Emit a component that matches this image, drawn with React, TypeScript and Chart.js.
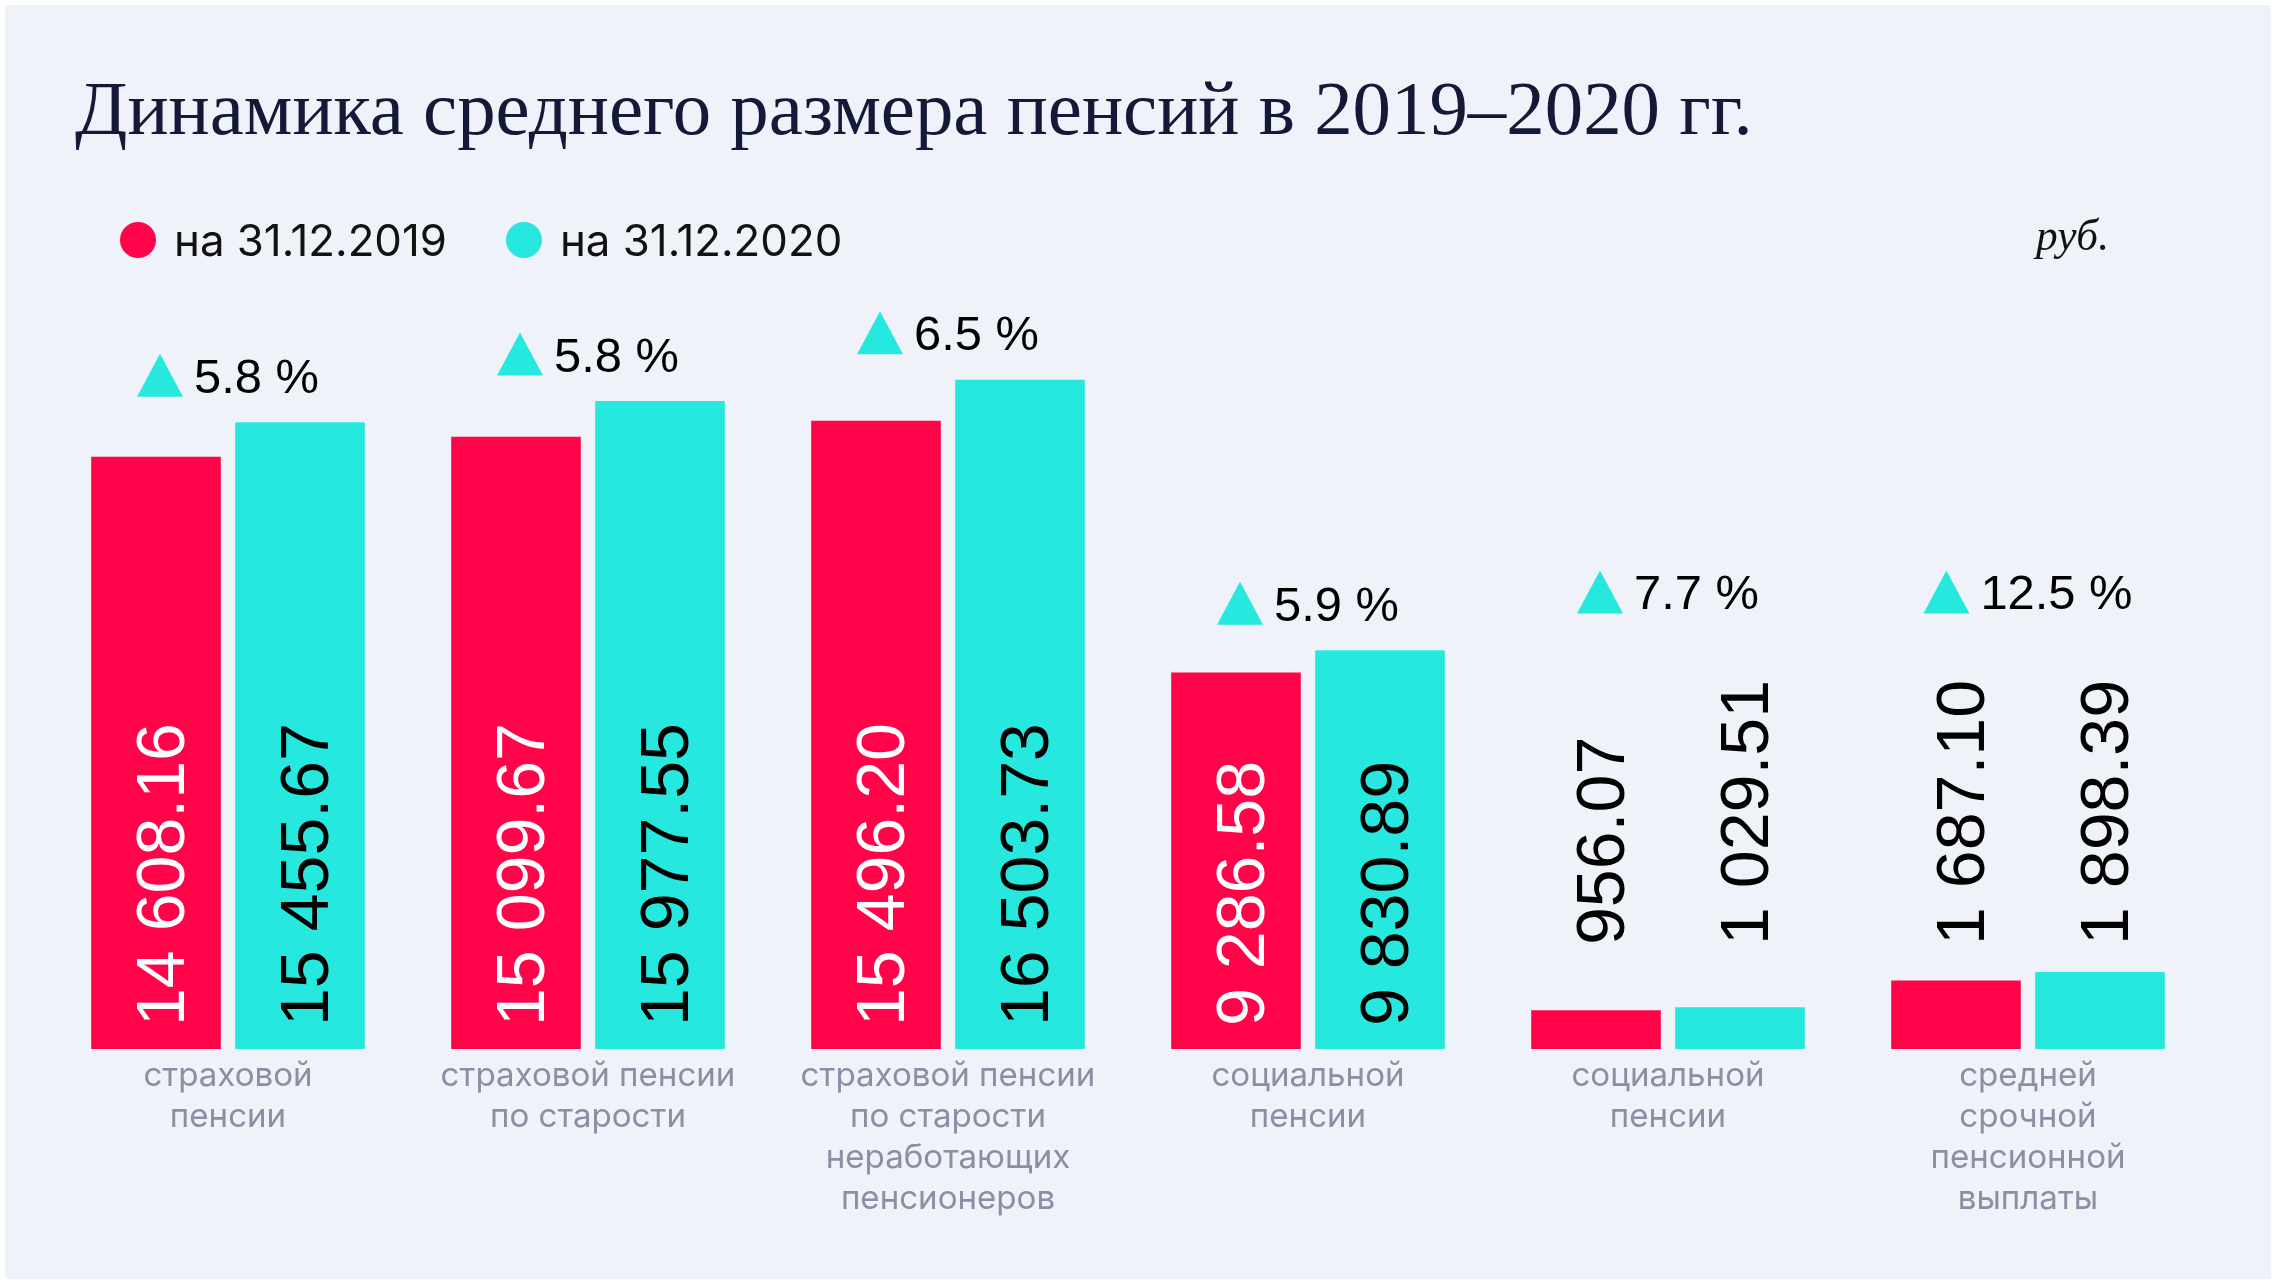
import React, { useEffect, useRef } from "react";
import { Chart, registerables } from "chart.js";

Chart.register(...registerables);

// ---------- data ----------
const titleText = "Динамика среднего размера пенсий в 2019–2020 гг.";
const unitText = "руб.";
const seriesNames = ["на 31.12.2019", "на 31.12.2020"];
const categories: string[][] = [
  ["страховой", "пенсии"],
  ["страховой пенсии", "по старости"],
  ["страховой пенсии", "по старости", "неработающих", "пенсионеров"],
  ["социальной", "пенсии"],
  ["социальной", "пенсии"],
  ["средней", "срочной", "пенсионной", "выплаты"],
];
const values2019 = [14608.16, 15099.67, 15496.2, 9286.58, 956.07, 1687.1];
const values2020 = [15455.67, 15977.55, 16503.73, 9830.89, 1029.51, 1898.39];
const growthLabels = ["5.8 %", "5.8 %", "6.5 %", "5.9 %", "7.7 %", "12.5 %"];

// ---------- styles ----------
const RED = "#ff0449";
const CYAN = "#26e8de";
const BG = "#eff3f9";
const TITLE_COLOR = "#141938";
const CAT_COLOR = "#8a8fa3";
const SANS = "Inter, 'Liberation Sans', sans-serif";
const PCT_FAMILY = "'Liberation Sans', Arial, sans-serif";
const VALUE_FONT_FAMILY = "'Liberation Sans', Arial, sans-serif";
const SERIF = "'Liberation Serif', 'DejaVu Serif', serif";

function fmt(v: number): string {
  const [i, d] = v.toFixed(2).split(".");
  return i.replace(/\B(?=(\d{3})+(?!\d))/g, " ") + "." + d;
}

export default function App() {
  const ref = useRef<HTMLCanvasElement>(null);

  useEffect(() => {
    document.body.style.margin = "0";
    const canvas = ref.current!;
    const W = 2276;
    const H = 1284;
    const mctx = document.createElement("canvas").getContext("2d")!;
    const fit = (text: string, style: string, family: string, target: number) => {
      mctx.font = `${style} 100px ${family}`;
      return (100 * target) / mctx.measureText(text).width;
    };

    const titleSize = fit(titleText, "normal", SERIF, 1678);
    const legendSize = fit(seriesNames[0], "normal", SANS, 273);
    const pctSize = fit("5.8 %", "normal", PCT_FAMILY, 125);
    const valueSize = fit("14 608.16", "normal", VALUE_FONT_FAMILY, 303);
    const catSize = fit("страховой пенсии", "normal", SANS, 295);
    const unitSize = fit(unitText, "italic", SERIF, 73);

    const deco = {
      id: "deco",
      beforeDraw(chart: any) {
        const ctx = chart.ctx as CanvasRenderingContext2D;
        ctx.save();
        ctx.fillStyle = "#ffffff";
        ctx.fillRect(0, 0, W, H);
        ctx.fillStyle = BG;
        ctx.fillRect(5, 5, W - 10, H - 10);
        ctx.restore();
      },
      afterDatasetsDraw(chart: any) {
        const ctx = chart.ctx as CanvasRenderingContext2D;
        const base = chart.scales.y.getPixelForValue(0);
        const sets = [values2019, values2020];
        const topMost: number[] = categories.map(() => Infinity);
        const outside: boolean[] = categories.map(() => false);
        ctx.save();
        ctx.font = `${valueSize}px ${VALUE_FONT_FAMILY}`;
        for (let d = 0; d < 2; d++) {
          const meta = chart.getDatasetMeta(d);
          sets[d].forEach((v, i) => {
            const el = meta.data[i];
            const text = fmt(v);
            const w = ctx.measureText(text).width;
            const inside = base - el.y > w + 23 + 20;
            const startY = inside ? base - 23 : base - 104;
            const textTop = startY - w;
            topMost[i] = Math.min(topMost[i], el.y, inside ? el.y : textTop);
            if (!inside) outside[i] = true;
            ctx.fillStyle = inside ? (d === 0 ? "#ffffff" : "#000000") : "#000000";
            ctx.save();
            ctx.translate(el.x + valueSize * 0.358 + 4, startY);
            ctx.rotate(-Math.PI / 2);
            ctx.textAlign = "left";
            ctx.textBaseline = "alphabetic";
            ctx.fillText(text, 0, 0);
            ctx.restore();
          });
        }
        // growth labels
        ctx.font = `${pctSize}px ${PCT_FAMILY}`;
        const triW = 46;
        const triH = 43;
        const gap = 11;
        const capH = pctSize * 0.716;
        const xScale = chart.scales.x;
        growthLabels.forEach((lbl, i) => {
          const cx = xScale.getPixelForValue(i);
          const tw = ctx.measureText(lbl).width;
          const total = triW + gap + tw;
          const sx = cx - total / 2;
          const centerY = topMost[i] - (outside[i] ? 88 : 47);
          const baseline = centerY + capH / 2;
          ctx.fillStyle = CYAN;
          ctx.beginPath();
          ctx.moveTo(sx, baseline + 4);
          ctx.lineTo(sx + triW, baseline + 4);
          ctx.lineTo(sx + triW / 2, baseline + 4 - triH);
          ctx.closePath();
          ctx.fill();
          ctx.fillStyle = "#000000";
          ctx.textAlign = "left";
          ctx.textBaseline = "alphabetic";
          ctx.fillText(lbl, sx + triW + gap, baseline);
        });
        ctx.restore();
      },
      afterDraw(chart: any) {
        const ctx = chart.ctx as CanvasRenderingContext2D;
        ctx.save();
        // title
        ctx.fillStyle = TITLE_COLOR;
        ctx.font = `${titleSize}px ${SERIF}`;
        ctx.textAlign = "left";
        ctx.textBaseline = "alphabetic";
        ctx.fillText(titleText, 75, 134);
        // legend
        ctx.font = `${legendSize}px ${SANS}`;
        const legendY = 240;
        const r = 18;
        let x = 120;
        const colors = [RED, CYAN];
        seriesNames.forEach((name, k) => {
          const ccx = x + r;
          ctx.fillStyle = colors[k];
          ctx.beginPath();
          ctx.arc(ccx, legendY, r, 0, Math.PI * 2);
          ctx.fill();
          ctx.fillStyle = "#111111";
          const tx = ccx + 36;
          ctx.fillText(name, tx, legendY + (legendSize * 0.727) / 2);
          x = tx + ctx.measureText(name).width + 59;
        });
        // unit
        ctx.font = `italic ${unitSize}px ${SERIF}`;
        ctx.fillStyle = "#111111";
        ctx.textAlign = "right";
        ctx.fillText(unitText, 2109, 250);
        ctx.restore();
      },
    };

    const chart = new Chart(canvas, {
      type: "bar",
      data: {
        labels: categories,
        datasets: [
          { label: seriesNames[0], data: values2019, backgroundColor: RED, borderWidth: 0 },
          { label: seriesNames[1], data: values2020, backgroundColor: CYAN, borderWidth: 0 },
        ],
      },
      options: {
        responsive: false,
        devicePixelRatio: 1,
        animation: false,
        events: [],
        categoryPercentage: 0.8,
        barPercentage: 0.9,
        layout: { padding: { left: 48, right: 68, top: 238, bottom: 0 } },
        plugins: {
          legend: { display: false },
          title: { display: false },
          tooltip: { enabled: false },
        },
        scales: {
          x: {
            grid: { display: false, drawTicks: false },
            border: { display: false },
            ticks: {
              autoSkip: false,
              maxRotation: 0,
              minRotation: 0,
              padding: 6,
              color: CAT_COLOR,
              font: { family: SANS, size: catSize, lineHeight: 41.2 / catSize },
            },
            afterFit: (scale: any) => {
              scale.height = 235;
            },
          },
          y: { display: false, min: 0, max: 20000 },
        },
      },
      plugins: [deco],
    } as any);

    return () => chart.destroy();
  }, []);

  return (
    <canvas
      ref={ref}
      width={2276}
      height={1284}
      style={{ display: "block", width: 2276, height: 1284 }}
    />
  );
}
